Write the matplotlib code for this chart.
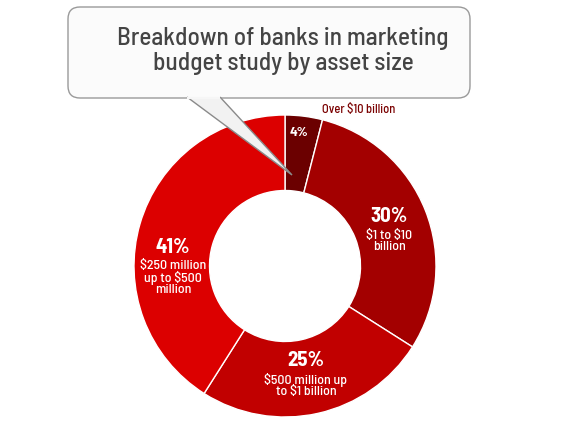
import numpy as np
import matplotlib.pyplot as plt
from matplotlib.patches import FancyBboxPatch, Polygon

# data
labels = ['Over $10 billion', '$1 to $10\nbillion', '$500 million up\nto $1 billion',
          '$250 million\nup to $500\nmillion']
shares = [4, 30, 25, 41]
colors = ['#6b0000', '#a30000', '#c10000', '#dc0000']
title = 'Breakdown of banks in marketing\nbudget study by asset size'

W, H = 565, 423

plt.rcParams['text.parse_math'] = False
plt.rcParams['font.family'] = ['Barlow Semi Condensed', 'DejaVu Sans']

fig = plt.figure(figsize=(W / 100, H / 100), dpi=100)
ax = fig.add_axes([0, 0, 1, 1])


def py(y):
    # pixel row -> data y
    return H - y


cx, cy = 285, py(266)
R = 151
ax.pie(shares, colors=colors, startangle=90, counterclock=False,
       center=(cx, cy), radius=R, frame=True,
       wedgeprops=dict(width=R * 0.5, edgecolor='white', linewidth=1))
ax.set_xlim(0, W)
ax.set_ylim(0, H)
ax.set_aspect('equal')
ax.axis('off')

# percentage labels + category labels
white = 'white'
ax.text(299, py(132), f'{shares[0]}%', color=white, fontsize=10, fontweight='bold',
        ha='center', va='center')
ax.text(359, py(110), labels[0], color='#7a0000', fontsize=9, fontweight='medium',
        ha='center', va='center')

pct_kw = dict(color=white, fontsize=15, fontweight='bold', ha='center', va='center')
sub_kw = dict(color=white, fontsize=10, fontweight='medium', ha='center', va='top',
              linespacing=0.9)

ax.text(389, py(216), f'{shares[1]}%', **pct_kw)
ax.text(389, py(230), labels[1], **sub_kw)

ax.text(306, py(360), f'{shares[2]}%', **pct_kw)
ax.text(306, py(373), labels[2], **sub_kw)

ax.text(173, py(247), f'{shares[3]}%', **pct_kw)
ax.text(173, py(260), labels[3], **sub_kw)

# callout box with tail
box = FancyBboxPatch((68, py(98)), 402, 91, boxstyle='round,pad=0,rounding_size=12',
                     facecolor='#fbfbfb', edgecolor='#9a9a9a', linewidth=1, zorder=5)
ax.add_patch(box)
tail = Polygon([(187, py(97)), (292, py(175)), (220, py(97))], closed=False,
               facecolor='#f2f2f2', edgecolor='#8a8a8a', linewidth=1, zorder=6)
ax.add_patch(tail)
ax.plot([188, 219], [py(97.5), py(97.5)], color='#f6f6f6', lw=1.5, zorder=7)

ax.text(283, py(51), title, color='#444444', fontsize=18.2, fontweight='medium',
        ha='center', va='center', linespacing=1.15, zorder=8)

fig.savefig('out.png', dpi=100)
